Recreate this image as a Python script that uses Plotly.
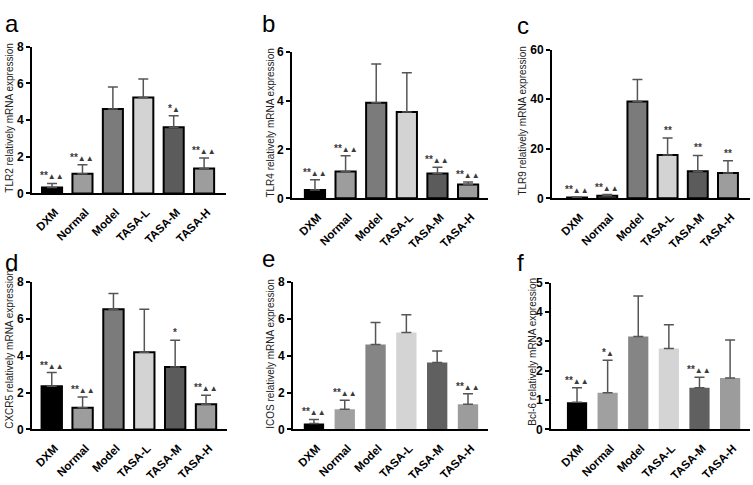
import plotly.graph_objects as go

# Groups
groups = ["DXM", "Normal", "Model", "TASA-L", "TASA-M", "TASA-H"]

# a - TLR2
tlr2_mean = [0.32, 1.08, 4.61, 5.24, 3.61, 1.36]
tlr2_sd = [0.23, 0.49, 1.20, 1.00, 0.63, 0.58]
tlr2_sig = ["**▲▲", "**▲▲", "", "", "*▲", "**▲▲"]

# b - TLR4
tlr4_mean = [0.34, 1.10, 3.91, 3.53, 1.02, 0.57]
tlr4_sd = [0.42, 0.64, 1.59, 1.61, 0.25, 0.10]
tlr4_sig = ["**▲▲", "**▲▲", "", "", "**▲▲", "**▲▲"]

# c - TLR9
tlr9_mean = [0.3, 1.0, 39.1, 17.5, 10.9, 10.2]
tlr9_sd = [0.2, 0.5, 8.9, 6.9, 6.4, 5.0]
tlr9_sig = ["**▲▲", "**▲▲", "", "**", "**", "**"]

# d - CXCR5
cxcr5_mean = [2.34, 1.18, 6.52, 4.18, 3.39, 1.36]
cxcr5_sd = [0.74, 0.58, 0.85, 2.34, 1.44, 0.49]
cxcr5_sig = ["**▲▲", "**▲▲", "", "", "*", "**▲▲"]

# e - ICOS
icos_mean = [0.32, 1.09, 4.61, 5.25, 3.63, 1.37]
icos_sd = [0.22, 0.49, 1.18, 0.96, 0.62, 0.56]
icos_sig = ["**▲▲", "**▲▲", "", "", "", "**▲▲"]

# f - Bcl-6
bcl6_mean = [0.93, 1.25, 3.17, 2.76, 1.42, 1.75]
bcl6_sd = [0.49, 1.11, 1.38, 0.81, 0.36, 1.30]
bcl6_sig = ["**▲▲", "*▲", "", "", "**▲▲", ""]

W, H = 753, 485
FONT = "Liberation Sans, Arial, sans-serif"

colors_outlined = ["#000000", "#9d9d9d", "#7b7b7b", "#d3d3d3", "#5b5b5b", "#9d9d9d"]
colors_flat = ["#000000", "#a0a0a0", "#858585", "#d4d4d4", "#606060", "#9c9c9c"]

# panel: letter, gene, data, y max, dtick, pixel box (x0, x1, ytop, ybottom), x range, outline,
#        letter pos, y-title pos
panels = [
    ("a", "TLR2", tlr2_mean, tlr2_sd, tlr2_sig, 8, 2, (32, 226, 41, 192), (-0.66, 5.72), True, (3, 17), (10, 114)),
    ("b", "TLR4", tlr4_mean, tlr4_sd, tlr4_sig, 6, 2, (292, 488, 46, 197), (-0.75, 5.65), True, (260, 17), (271, 119)),
    ("c", "TLR9", tlr9_mean, tlr9_sd, tlr9_sig, 60, 20, (552, 750, 44, 197), (-0.83, 5.73), True, (515, 19), (523, 117)),
    ("d", "CXCR5", cxcr5_mean, cxcr5_sd, cxcr5_sig, 8, 2, (32, 227, 283, 435), (-0.64, 5.68), True, (3, 263), (10, 353)),
    ("e", "ICOS", icos_mean, icos_sd, icos_sig, 8, 2, (293, 488, 283, 435), (-0.68, 5.65), False, (260, 259), (271, 357)),
    ("f", "Bcl-6", bcl6_mean, bcl6_sd, bcl6_sig, 5, 1, (551, 750, 284, 435), (-0.85, 5.65), False, (515, 263), (533, 355)),
]


def sig_text(t):
    # bold stars, smaller triangles set tight after them
    stars = t.replace("▲", "")
    tri = t.replace("*", "")
    out = "<b>" + stars + "</b>" if stars else ""
    if tri:
        out += "<span style='font-size:8px'>" + tri + "</span>"
    return out


fig = go.Figure()
layout = {}
annotations = []

for k, (letter, gene, mean, sd, sig, ymax, dtick, box, xr, outlined, lpos, tpos) in enumerate(panels):
    n = "" if k == 0 else str(k + 1)
    xa, ya = "x" + n, "y" + n
    x0, x1, yt, yb = box

    fig.add_trace(go.Bar(
        x=groups,
        y=mean,
        width=0.66,
        marker=dict(
            color=colors_outlined if outlined else colors_flat,
            line=dict(color="#000000", width=2 if outlined else 0),
        ),
        error_y=dict(
            type="data", array=sd, arrayminus=[0] * len(sd), symmetric=False,
            color="#555555", thickness=1.5, width=5,
        ),
        xaxis=xa,
        yaxis=ya,
        showlegend=False,
        hoverinfo="skip",
    ))

    layout["xaxis" + n] = dict(
        domain=[x0 / W, x1 / W],
        anchor=ya,
        range=list(xr),
        showline=True, linecolor="#000000", linewidth=1.5,
        ticks="", showgrid=False, zeroline=False,
        tickangle=-45,
        ticklabelstandoff=6,
        ticklabelshift=3,
        tickfont=dict(family=FONT, size=11.5, color="#000000", weight="bold"),
    )
    layout["yaxis" + n] = dict(
        domain=[1 - yb / H, 1 - yt / H],
        anchor=xa,
        range=[0, ymax],
        dtick=dtick,
        showline=True, linecolor="#000000", linewidth=2,
        ticks="outside", ticklen=4, tickwidth=2, tickcolor="#000000",
        showgrid=False, zeroline=False,
        tickfont=dict(family=FONT, size=12, color="#000000", weight="bold"),
    )

    # significance marks
    for g, m, s, t in zip(groups, mean, sd, sig):
        if t:
            annotations.append(dict(
                x=g, y=m + s, xref=xa, yref=ya, text=sig_text(t), showarrow=False,
                yanchor="bottom", yshift=0,
                font=dict(family=FONT, size=10, color="#3a3a3a"),
            ))

    # panel letter
    annotations.append(dict(
        x=lpos[0] / W, y=1 - lpos[1] / H, xref="paper", yref="paper",
        text=letter, showarrow=False, xanchor="left", yanchor="middle",
        font=dict(family=FONT, size=24, color="#000000"),
    ))

    # y-axis title
    annotations.append(dict(
        x=tpos[0] / W, y=1 - tpos[1] / H, xref="paper", yref="paper",
        text=gene + " relatively mRNA expression", showarrow=False,
        textangle=-90, xanchor="center", yanchor="middle",
        font=dict(family=FONT, size=10, color="#222222"),
    ))

fig.update_layout(
    width=W, height=H,
    margin=dict(l=0, r=0, t=0, b=0),
    plot_bgcolor="white", paper_bgcolor="white",
    bargap=0.3,
    annotations=annotations,
    **layout,
)

fig.write_html(
    "out.html",
    config={"displayModeBar": False},
    post_script="document.body.style.margin='0';",
)
